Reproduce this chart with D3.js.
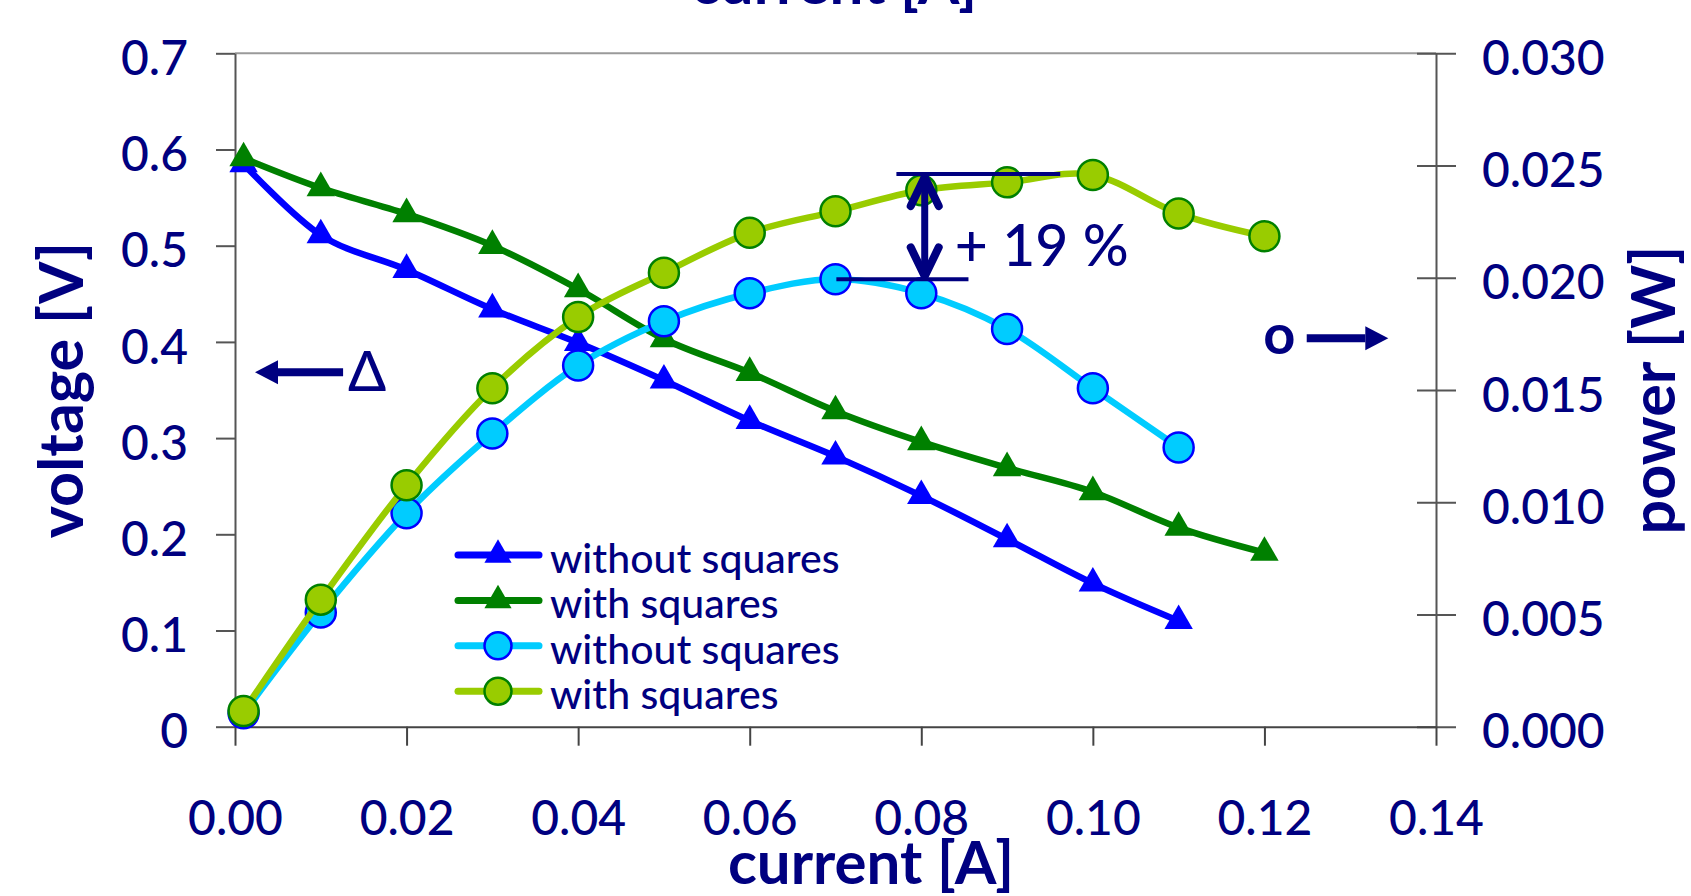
<!DOCTYPE html>
<html>
<head>
<meta charset="utf-8">
<script src="https://cdn.jsdelivr.net/npm/d3@7"></script>
<style>
  body { margin: 0; background: #fff; }
  text { font-family: Lato, "DejaVu Sans", sans-serif; }
</style>
</head>
<body>
<div id="chart"></div>
<script>
// current [A] for every measured point
const current = [0.001, 0.01, 0.02, 0.03, 0.04, 0.05, 0.06, 0.07, 0.08, 0.09, 0.10, 0.11, 0.12]

// voltage [V] (left axis)
const voltageWithout = [0.585, 0.511, 0.475, 0.434, 0.399, 0.360, 0.318, 0.281, 0.240, 0.195, 0.149, 0.110]
const voltageWith = [0.591, 0.560, 0.533, 0.500, 0.455, 0.403, 0.368, 0.328, 0.296, 0.269, 0.244, 0.207, 0.181]

// power [W] (right axis)
const powerWithout = [0.0006, 0.00509, 0.00951, 0.01306, 0.01609, 0.01806, 0.01931, 0.01993, 0.01931, 0.01772, 0.01508, 0.01244]
const powerWith = [0.0007, 0.00566, 0.01076, 0.01508, 0.01825, 0.02022, 0.02200, 0.02296, 0.0239, 0.02425, 0.02458, 0.02286, 0.02185]

const seriesNames = ['without squares', 'with squares', 'without squares', 'with squares']

const xTicks = [0, 0.02, 0.04, 0.06, 0.08, 0.10, 0.12, 0.14]
const vTicks = [0, 0.1, 0.2, 0.3, 0.4, 0.5, 0.6, 0.7]
const pTicks = [0, 0.005, 0.010, 0.015, 0.020, 0.025, 0.030]

// annotation anchors, in data units (current, power / voltage)
const gainTop = { p: 0.02462, x0: 0.0771, x1: 0.0962 }
const gainBottom = { p: 0.01993, x0: 0.0701, x1: 0.0855 }
const gainArrowX = 0.0804
const gainLabel = { x: 0.0839, p: 0.02052, text: '+ 19 %' }
const leftHint = { x0: 0.0126, x1: 0.00233, v: 0.3684, labelX: 0.01317, labelV: 0.349, text: 'Δ' }
const rightHint = { x0: 0.12493, x1: 0.13444, p: 0.0173, labelX: 0.12173, labelP: 0.0166, text: 'o' }

const width = 1691
const height = 896
const navy = '#000080'

const xScale = d3.scaleLinear().domain([0, 0.14]).range([235, 1436])
const yLeft = d3.scaleLinear().domain([0, 0.7]).range([726.7, 53.3])
const yRight = d3.scaleLinear().domain([0, 0.03]).range([726.7, 53.3])

const svg = d3.select('#chart').append('svg')
    .attr('width', width)
    .attr('height', height)

svg.append('rect')
    .attr('width', width)
    .attr('height', height)
    .attr('fill', 'white')

// top border of the plot area
svg.append('line')
    .attr('x1', xScale(0)).attr('x2', xScale(0.14))
    .attr('y1', yLeft(0.7)).attr('y2', yLeft(0.7))
    .attr('stroke', '#9a9a9a')
    .attr('stroke-width', 2)

// axes
function styleAxis(g, col) {
    g.select('.domain').attr('stroke', col).attr('stroke-width', 2)
    g.selectAll('.tick line').attr('stroke', col).attr('stroke-width', 2)
    g.selectAll('.tick text')
        .attr('fill', navy)
        .attr('font-size', 48)
        .attr('font-weight', 500)
        .attr('font-family', 'Lato, "DejaVu Sans", sans-serif')
}

const gLeft = svg.append('g')
    .attr('transform', 'translate(' + xScale(0) + ',0)')
    .call(d3.axisLeft(yLeft).tickValues(vTicks).tickSize(19).tickSizeOuter(0).tickPadding(28)
        .tickFormat(d => d === 0 ? '0' : d3.format('.1f')(d)))
styleAxis(gLeft, '#555')
gLeft.selectAll('.tick text').attr('dy', '0.44em')

const gRight = svg.append('g')
    .attr('transform', 'translate(' + xScale(0.14) + ',0)')
    .call(d3.axisRight(yRight).tickValues(pTicks).tickSize(20).tickSizeOuter(0).tickPadding(26)
        .tickFormat(d3.format('.3f')))
styleAxis(gRight, '#555')
gRight.selectAll('.tick line').attr('x1', -19)
gRight.selectAll('.tick text').attr('dy', '0.44em')

const gBottom = svg.append('g')
    .attr('transform', 'translate(0,' + yLeft(0) + ')')
    .call(d3.axisBottom(xScale).tickValues(xTicks).tickSize(19).tickSizeOuter(0).tickPadding(55)
        .tickFormat(d3.format('.2f')))
styleAxis(gBottom, '#444')

// axis titles
svg.append('text')
    .attr('transform', 'translate(83,' + yLeft(0.35) + ') rotate(-90)')
    .attr('text-anchor', 'middle')
    .attr('font-size', 61)
    .attr('font-weight', 'bold')
    .attr('fill', navy)
    .text('voltage [V]')

svg.append('text')
    .attr('transform', 'translate(1675,' + yLeft(0.35) + ') rotate(-90)')
    .attr('text-anchor', 'middle')
    .attr('font-size', 61)
    .attr('font-weight', 'bold')
    .attr('fill', navy)
    .text('power [W]')

svg.append('text')
    .attr('x', 871).attr('y', 884)
    .attr('text-anchor', 'middle')
    .attr('font-size', 60)
    .attr('font-weight', 'bold')
    .attr('fill', navy)
    .text('current [A]')

// title of the chart above, cut by the frame
svg.append('text')
    .attr('x', 834).attr('y', 4)
    .attr('text-anchor', 'middle')
    .attr('font-size', 60)
    .attr('font-weight', 'bold')
    .attr('fill', navy)
    .text('current [A]')

// series
const series = [
    { name: seriesNames[0], values: voltageWithout, y: yLeft, line: '#0000ff', fill: '#0000ff', edge: '#0000ff', shape: 'tri' },
    { name: seriesNames[1], values: voltageWith, y: yLeft, line: '#008000', fill: '#008000', edge: '#008000', shape: 'tri' },
    { name: seriesNames[2], values: powerWithout, y: yRight, line: '#00ccff', fill: '#00ccff', edge: '#0000ff', shape: 'circle' },
    { name: seriesNames[3], values: powerWith, y: yRight, line: '#99cc00', fill: '#99cc00', edge: '#008000', shape: 'circle' }
]

const triangle = d3.symbol().type(d3.symbolTriangle).size(350)
const triangleSmall = d3.symbol().type(d3.symbolTriangle).size(320)

series.forEach(function(s) {
    const pts = s.values.map((v, i) => ({ x: current[i], y: v }))
    const valueline = d3.line()
        .x(d => xScale(d.x))
        .y(d => s.y(d.y))
        .curve(d3.curveCatmullRom.alpha(0))

    const g = svg.append('g')
    g.append('path')
        .datum(pts)
        .attr('fill', 'none')
        .attr('stroke', s.line)
        .attr('stroke-width', 6.5)
        .attr('stroke-linejoin', 'round')
        .attr('d', valueline)

    if (s.shape === 'tri') {
        g.selectAll('path.mark').data(pts).enter().append('path')
            .attr('class', 'mark')
            .attr('transform', d => 'translate(' + xScale(d.x) + ',' + s.y(d.y) + ')')
            .attr('d', triangle)
            .attr('fill', s.fill)
    } else {
        g.selectAll('circle').data(pts).enter().append('circle')
            .attr('cx', d => xScale(d.x))
            .attr('cy', d => s.y(d.y))
            .attr('r', 15)
            .attr('fill', s.fill)
            .attr('stroke', s.edge)
            .attr('stroke-width', 2.5)
    }
})

// legend
const legend = svg.append('g').attr('transform', 'translate(458,555)')
series.forEach(function(s, i) {
    const row = legend.append('g').attr('transform', 'translate(0,' + (i * 45.4) + ')')
    row.append('line')
        .attr('x1', 0).attr('x2', 81)
        .attr('stroke', s.line)
        .attr('stroke-width', 7)
        .attr('stroke-linecap', 'round')
    if (s.shape === 'tri') {
        row.append('path')
            .attr('transform', 'translate(40,0)')
            .attr('d', triangleSmall)
            .attr('fill', s.fill)
    } else {
        row.append('circle')
            .attr('cx', 40).attr('r', 13.5)
            .attr('fill', s.fill)
            .attr('stroke', s.edge)
            .attr('stroke-width', 2.5)
    }
    row.append('text')
        .attr('x', 92).attr('y', 18)
        .attr('font-size', 41)
        .attr('font-weight', 500)
        .attr('fill', navy)
        .text(s.name)
})

// +19 % annotation
const ann = svg.append('g').attr('stroke', navy).attr('fill', 'none')
ann.append('line')
    .attr('x1', xScale(gainTop.x0)).attr('x2', xScale(gainTop.x1))
    .attr('y1', yRight(gainTop.p)).attr('y2', yRight(gainTop.p))
    .attr('stroke-width', 4)
ann.append('line')
    .attr('x1', xScale(gainBottom.x0)).attr('x2', xScale(gainBottom.x1))
    .attr('y1', yRight(gainBottom.p)).attr('y2', yRight(gainBottom.p))
    .attr('stroke-width', 4)

const ax = xScale(gainArrowX)
const aTop = yRight(gainTop.p) + 3
const aBot = yRight(gainBottom.p) - 3
ann.append('line')
    .attr('x1', ax).attr('x2', ax)
    .attr('y1', aTop).attr('y2', aBot)
    .attr('stroke-width', 7)
ann.append('path')
    .attr('d', 'M' + (ax - 14) + ',' + (aTop + 29) + 'L' + ax + ',' + aTop + 'L' + (ax + 14) + ',' + (aTop + 29))
    .attr('stroke-width', 8)
    .attr('stroke-linecap', 'round')
    .attr('stroke-linejoin', 'round')
ann.append('path')
    .attr('d', 'M' + (ax - 14) + ',' + (aBot - 29) + 'L' + ax + ',' + aBot + 'L' + (ax + 14) + ',' + (aBot - 29))
    .attr('stroke-width', 8)
    .attr('stroke-linecap', 'round')
    .attr('stroke-linejoin', 'round')

svg.append('text')
    .attr('x', xScale(gainLabel.x)).attr('y', yRight(gainLabel.p))
    .attr('font-size', 57)
    .attr('font-weight', 500)
    .attr('fill', navy)
    .text(gainLabel.text)

// axis hints: arrow with series symbol
function hintArrow(xFrom, xTo, y) {
    const dir = xTo > xFrom ? 1 : -1
    const base = xTo - dir * 23
    svg.append('line')
        .attr('x1', xFrom).attr('x2', base)
        .attr('y1', y).attr('y2', y)
        .attr('stroke', navy)
        .attr('stroke-width', 8)
    svg.append('path')
        .attr('d', 'M' + xTo + ',' + y + 'L' + base + ',' + (y - 12) + 'L' + base + ',' + (y + 12) + 'Z')
        .attr('fill', navy)
}

hintArrow(xScale(leftHint.x0), xScale(leftHint.x1), yLeft(leftHint.v))
svg.append('text')
    .attr('x', xScale(leftHint.labelX)).attr('y', yLeft(leftHint.labelV))
    .attr('font-size', 56)
    .attr('font-weight', 500)
    .attr('fill', navy)
    .text(leftHint.text)

hintArrow(xScale(rightHint.x0), xScale(rightHint.x1), yRight(rightHint.p))
svg.append('text')
    .attr('x', xScale(rightHint.labelX)).attr('y', yRight(rightHint.labelP))
    .attr('text-anchor', 'middle')
    .attr('font-size', 56)
    .attr('font-weight', 'bold')
    .attr('fill', navy)
    .text(rightHint.text)
</script>
</body>
</html>
